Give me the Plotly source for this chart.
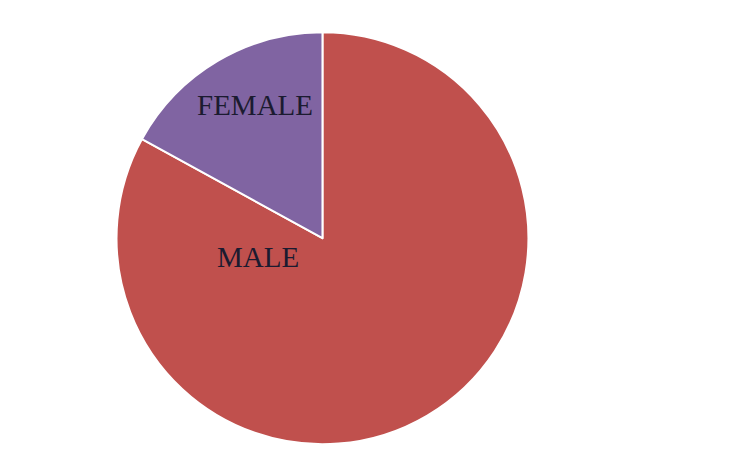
import plotly.graph_objects as go

labels = ["MALE", "FEMALE"]
values = [83, 17]
colors = ["#C0504D", "#8064A2"]

# label spots, as in the source image (paper coords)
label_x = [0.333, 0.329]
label_y = [0.467, 0.792]

fig = go.Figure(go.Pie(
    labels=labels,
    values=values,
    sort=False,
    direction="clockwise",
    rotation=0,
    marker=dict(colors=colors, line=dict(color="white", width=2)),
    textinfo="none",
    hoverinfo="label+percent",
    showlegend=False,
    domain=dict(x=[0.1426, 0.696], y=[0.066, 0.948]),
))

for lab, x, y in zip(labels, label_x, label_y):
    fig.add_annotation(
        x=x, y=y, xref="paper", yref="paper", text=lab, showarrow=False,
        xanchor="center", yanchor="middle",
        font=dict(family="Liberation Serif, serif", size=29, color="#1b1b30"),
    )

fig.update_layout(
    width=750, height=467,
    margin=dict(l=0, r=0, t=0, b=0),
    paper_bgcolor="white",
    plot_bgcolor="white",
)

fig.write_html("out.html")
